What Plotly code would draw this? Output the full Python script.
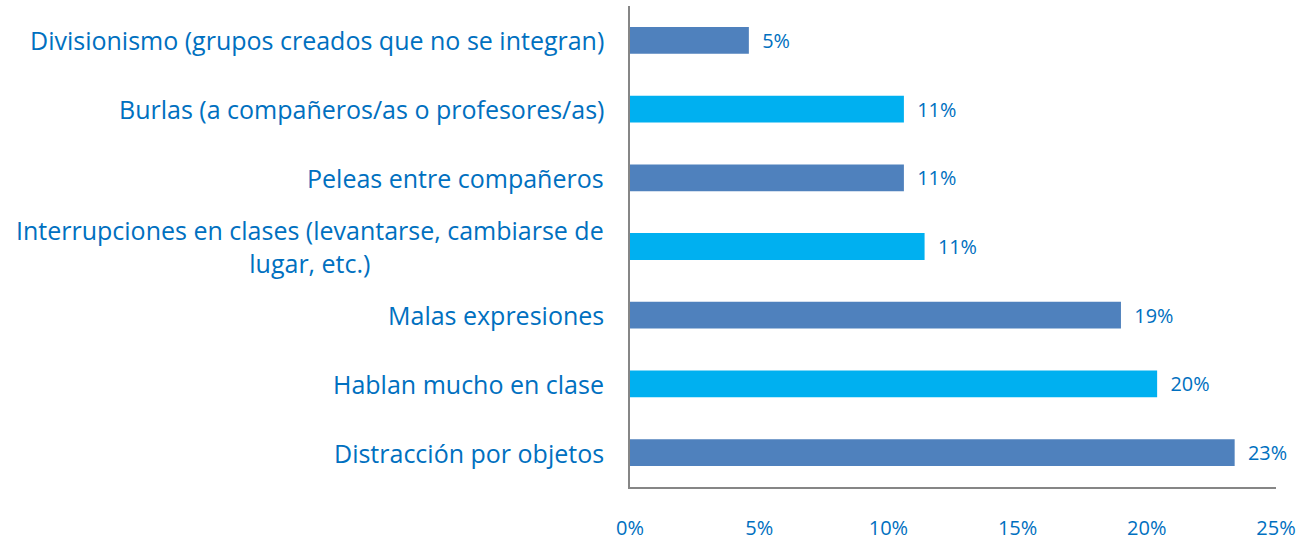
import plotly.graph_objects as go

# Categories listed top to bottom
categories = [
    "Divisionismo (grupos creados que no se integran)",
    "Burlas (a compañeros/as o profesores/as)",
    "Peleas entre compañeros",
    "Interrupciones en clases (levantarse, cambiarse de<br>lugar, etc.)",
    "Malas expresiones",
    "Hablan mucho en clase",
    "Distracción por objetos",
]
values = [0.046, 0.106, 0.106, 0.114, 0.190, 0.204, 0.234]
bar_colors = ["#4F81BD", "#00B0F0", "#4F81BD", "#00B0F0", "#4F81BD", "#00B0F0", "#4F81BD"]
tick_values = [0, 0.05, 0.10, 0.15, 0.20, 0.25]
tick_labels = ["0%", "5%", "10%", "15%", "20%", "25%"]

TEXT_BLUE = "#0070C0"
FONT = "Open Sans"
positions = list(range(len(categories)))

fig = go.Figure(
    go.Bar(
        x=values,
        y=positions,
        orientation="h",
        marker=dict(color=bar_colors, line=dict(width=0)),
        width=0.39,
        texttemplate="\u00a0\u00a0%{x:.0%}",
        textposition="outside",
        textfont=dict(family=FONT, size=20, color=TEXT_BLUE),
        cliponaxis=False,
        hoverinfo="skip",
    )
)

# Category labels, centred line by line and right-aligned against the axis
for pos, name in zip(positions, categories):
    fig.add_annotation(
        x=0, xref="paper", y=pos, yref="y",
        text=name, showarrow=False,
        xanchor="right", yanchor="middle", align="center",
        xshift=-24,
        font=dict(family=FONT, size=25, color=TEXT_BLUE),
    )

fig.update_layout(
    width=1308, height=547,
    margin=dict(l=630, r=32, t=6, b=54),
    paper_bgcolor="white", plot_bgcolor="white",
    showlegend=False,
)
fig.update_xaxes(
    range=[0, 0.25],
    tickvals=tick_values, ticktext=tick_labels,
    showgrid=False, zeroline=False,
    showline=True, linecolor="#868686", linewidth=1.5,
    ticks="", ticklabelstandoff=22,
    tickfont=dict(family=FONT, size=20, color=TEXT_BLUE),
)
fig.update_yaxes(
    range=[len(categories) - 0.5, -0.5],
    showticklabels=False, showgrid=False, zeroline=False,
    showline=True, linecolor="#868686", linewidth=1.5,
    ticks="",
)

fig.write_html("out.html")
